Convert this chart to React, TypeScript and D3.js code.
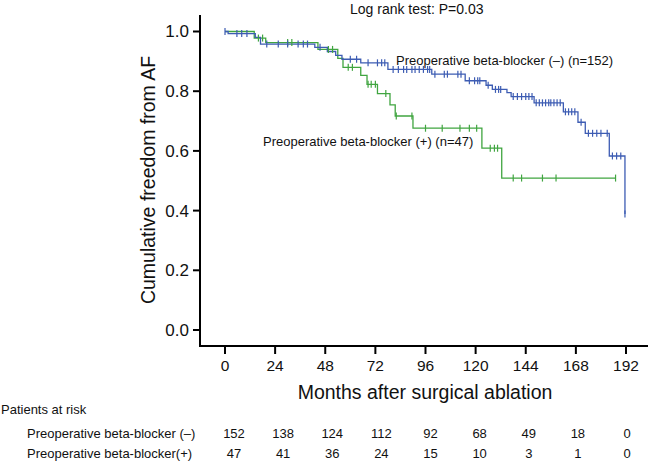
import React from "react";
import * as d3 from "d3";

// ---- Data ----
const blueStepTimes = [0, 1.5, 14.5, 17, 43, 49, 53, 56, 65, 78, 99, 115, 125, 128, 135, 137, 148, 162, 169, 172.5, 184, 191.5];
const blueStepSurv = [1.0, 0.993, 0.98, 0.958, 0.947, 0.933, 0.92, 0.907, 0.895, 0.873, 0.857, 0.835, 0.82, 0.806, 0.795, 0.782, 0.761, 0.731, 0.696, 0.659, 0.583, 0.389];
const blueEnd = 191.5;
const blueCensor = [0, 5.7, 8, 10.5, 20, 25.5, 30, 35, 37.5, 39.5, 45.5, 60, 63, 68.5, 73, 75, 76.5, 80.5, 83, 85.5, 87, 89.5, 91, 93, 95, 97, 98, 100.5, 105, 106.5, 111.5, 113, 117, 119.5, 121, 122, 126, 129.5, 131, 132, 138, 140, 142, 144, 145.5, 147, 149, 150.5, 152, 153.5, 155, 156, 157.5, 159, 160.5, 163, 164.5, 166, 167.5, 170.5, 174, 176, 178, 180, 183, 185.5, 187.5, 189.5, 191.5];

const greenStepTimes = [0, 14, 19.5, 44.5, 54, 56.5, 65, 68, 73, 79, 81.5, 90, 123, 132.5];
const greenStepSurv = [1.0, 0.978, 0.963, 0.94, 0.91, 0.88, 0.853, 0.823, 0.792, 0.754, 0.717, 0.676, 0.609, 0.509];
const greenEnd = 187;
const greenCensor = [16, 18, 30, 32, 49.5, 51.5, 59, 61, 68.5, 70, 72, 77, 82, 89.5, 96, 104, 112.5, 117, 120.5, 127, 129, 130.5, 138, 142, 152, 158.5, 187];

const yTicks = [0, 0.2, 0.4, 0.6, 0.8, 1.0];
const xTicks = [0, 24, 48, 72, 96, 120, 144, 168, 192];
const atRiskNeg = [152, 138, 124, 112, 92, 68, 49, 18, 0];
const atRiskPos = [47, 41, 36, 24, 15, 10, 3, 1, 0];

const title = "Log rank test: P=0.03";
const yLabel = "Cumulative freedom from AF";
const xLabel = "Months after surgical ablation";
const labelNeg = "Preoperative beta-blocker (\u2013) (n=152)";
const labelPos = "Preoperative beta-blocker (+) (n=47)";
const riskTitle = "Patients at risk";
const riskNegLabel = "Preoperative beta-blocker (\u2013)";
const riskPosLabel = "Preoperative beta-blocker(+)";

const BLUE = "#3d5cb3";
const GREEN = "#40a540";
const FONT = "'Liberation Sans', Arial, Helvetica, sans-serif";

export default function App() {
  const x = d3.scaleLinear().domain([0, 192]).range([225, 626]);
  const y = d3.scaleLinear().domain([0, 1]).range([330, 31.5]);
  const col = d3.scaleLinear().domain([0, 192]).range([234, 627]);

  const stepPath = (times: number[], surv: number[], end: number) => {
    const pts: [number, number][] = times.map((t, i) => [t, surv[i]]);
    pts.push([end, surv[surv.length - 1]]);
    return d3
      .line<[number, number]>()
      .x((d) => x(d[0]))
      .y((d) => y(d[1]))
      .curve(d3.curveStepAfter)(pts) as string;
  };
  const survAt = (times: number[], surv: number[], t: number) => {
    let v = surv[0];
    for (let i = 0; i < times.length; i++) if (times[i] <= t) v = surv[i];
    return v;
  };

  const axisX0 = 200;
  const axisY0 = 346;
  const axisTop = 15;
  const axisRight = 648;

  return (
    <svg
      width={648}
      height={464}
      style={{ position: "absolute", left: 0, top: 0, background: "#fff" }}
      fontFamily={FONT}
    >
      <rect x={0} y={0} width={648} height={464} fill="#fff" />
      {/* title */}
      <text x={350} y={14} fontSize={14} fill="#111">{title}</text>

      {/* axes */}
      <path
        d={`M${axisX0},${axisTop}V${axisY0}H${axisRight}`}
        fill="none"
        stroke="#000"
        strokeWidth={2}
      />
      {yTicks.map((t) => (
        <g key={"yt" + t}>
          <line x1={axisX0 - 7} x2={axisX0} y1={y(t)} y2={y(t)} stroke="#000" strokeWidth={2} />
          <text x={189} y={y(t)} dy="0.35em" textAnchor="end" fontSize={17} fill="#111">
            {d3.format(".1f")(t)}
          </text>
        </g>
      ))}
      {xTicks.map((t) => (
        <g key={"xt" + t}>
          <line x1={x(t)} x2={x(t)} y1={axisY0} y2={axisY0 + 8} stroke="#000" strokeWidth={2} />
          <text x={x(t)} y={366} dy="0.35em" textAnchor="middle" fontSize={15.5} fill="#111">
            {t}
          </text>
        </g>
      ))}
      <text
        transform={`translate(155,180) rotate(-90)`}
        textAnchor="middle"
        fontSize={19.5}
        fill="#111"
      >
        {yLabel}
      </text>
      <text x={425} y={399} textAnchor="middle" fontSize={19.5} fill="#111">
        {xLabel}
      </text>

      {/* curves */}
      <path d={stepPath(greenStepTimes, greenStepSurv, greenEnd)} fill="none" stroke={GREEN} strokeWidth={1.3} />
      <path d={stepPath(blueStepTimes, blueStepSurv, blueEnd)} fill="none" stroke={BLUE} strokeWidth={1.3} />
      {greenCensor.map((t, i) => {
        const yy = y(survAt(greenStepTimes, greenStepSurv, t));
        return <line key={"gc" + i} x1={x(t)} x2={x(t)} y1={yy - 3.5} y2={yy + 3.5} stroke={GREEN} strokeWidth={1.2} />;
      })}
      {blueCensor.map((t, i) => {
        const yy = y(survAt(blueStepTimes, blueStepSurv, t));
        return <line key={"bc" + i} x1={x(t)} x2={x(t)} y1={yy - 3.5} y2={yy + 3.5} stroke={BLUE} strokeWidth={1.2} />;
      })}

      {/* curve labels */}
      <text x={396} y={64.5} fontSize={13} fill="#111">{labelNeg}</text>
      <text x={263} y={146} fontSize={13} fill="#111">{labelPos}</text>

      {/* at-risk table */}
      <text x={1} y={414} fontSize={13} fill="#111">{riskTitle}</text>
      <text x={27} y={438} fontSize={13} fill="#111">{riskNegLabel}</text>
      <text x={27} y={458} fontSize={13} fill="#111">{riskPosLabel}</text>
      {xTicks.map((t, i) => (
        <g key={"ar" + t}>
          <text x={col(t)} y={438} textAnchor="middle" fontSize={13} fill="#111">{atRiskNeg[i]}</text>
          <text x={col(t)} y={458} textAnchor="middle" fontSize={13} fill="#111">{atRiskPos[i]}</text>
        </g>
      ))}
    </svg>
  );
}
